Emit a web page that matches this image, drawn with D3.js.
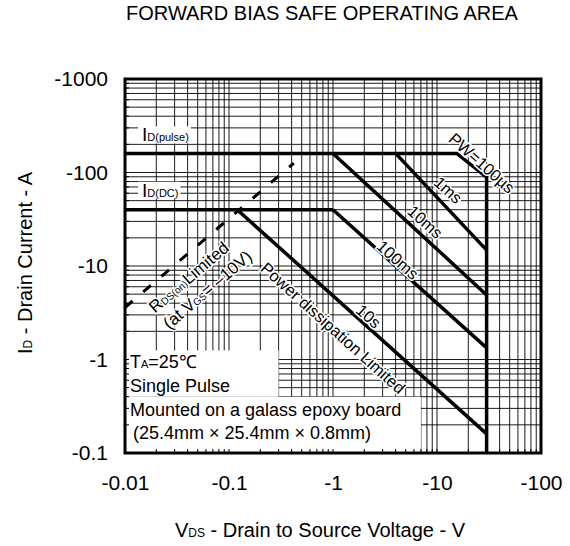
<!DOCTYPE html>
<html>
<head>
<meta charset="utf-8">
<script src="https://cdn.jsdelivr.net/npm/d3@7"></script>
<style>
    body { margin: 0; background: #fff; }
    text { font-family: Arial, "Liberation Sans", sans-serif; fill: #000; }
</style>
</head>
<body>
<div id="chart"></div>
<script>
// tick values (VDS and ID are negative, P-channel)
const xTicks = [-0.01, -0.1, -1, -10, -100];
const yTicks = [-0.1, -1, -10, -100, -1000];

// SOA boundaries: VDS (V) / ID (A)
const pulseV = [-0.01, -15.5, -30, -30];
const pulseI = [-160, -160, -89, -0.1];
const dcV = [-0.01, -1];
const dcI = [-40, -40];
const ms1V = [-4.0, -30];
const ms1I = [-160, -14.8];
const ms10V = [-1.0, -30];
const ms10I = [-160, -4.9];
const ms100V = [-1.0, -30];
const ms100I = [-40, -1.33];
const s10V = [-0.12, -30];
const s10I = [-40, -0.16];
const rdsV = [-0.01, -0.42];
const rdsI = [-3.6, -126];

let zip = (vs, is) => vs.map((v, i) => ({ v: v, i: is[i] }));

let margin = { top: 79, right: 29, bottom: 93, left: 125 };
let width = 570 - margin.left - margin.right;
let height = 546 - margin.top - margin.bottom;

let x = d3.scaleLog()
    .domain([-0.01, -100])
    .range([0, width]);

let y = d3.scaleLog()
    .domain([-0.1, -1000])
    .range([height, 0]);

let line = d3.line()
    .x(function (d) { return x(d.v) })
    .y(function (d) { return y(d.i) });

let root = d3.select("#chart")
    .append("svg")
    .attr("width", 570)
    .attr("height", 546);

let svg = root.append("g")
    .attr("transform", "translate(" + margin.left + "," + margin.top + ")");

// log grid
let grid = svg.append("g").attr("stroke", "#000").attr("stroke-width", 0.9);
grid.selectAll(".gx").data(x.ticks()).enter().append("line")
    .attr("x1", d => x(d)).attr("x2", d => x(d))
    .attr("y1", 0).attr("y2", height);
grid.selectAll(".gy").data(y.ticks()).enter().append("line")
    .attr("y1", d => y(d)).attr("y2", d => y(d))
    .attr("x1", 0).attr("x2", width);

// white backing behind the notes in the lower left
svg.append("rect")
    .attr("x", x(-0.01)).attr("y", y(-1.25))
    .attr("width", x(-0.3) - x(-0.01)).attr("height", y(-0.4) - y(-1.25))
    .attr("fill", "#fff");
svg.append("rect")
    .attr("x", x(-0.01)).attr("y", y(-0.4))
    .attr("width", x(-7) - x(-0.01)).attr("height", y(-0.1) - y(-0.4))
    .attr("fill", "#fff");

// curves
let curves = [
    zip(pulseV, pulseI), zip(dcV, dcI), zip(ms1V, ms1I), zip(ms10V, ms10I),
    zip(ms100V, ms100I), zip(s10V, s10I)
];
svg.selectAll(".curve").data(curves).enter().append("path")
    .attr("class", "curve")
    .attr("d", line)
    .attr("fill", "none")
    .attr("stroke", "#000")
    .attr("stroke-width", 3.5)
    .attr("stroke-linejoin", "miter");

svg.append("path")
    .datum(zip(rdsV, rdsI))
    .attr("d", line)
    .attr("fill", "none")
    .attr("stroke", "#000")
    .attr("stroke-width", 3)
    .attr("stroke-dasharray", "10,14");

// angle of a segment in screen space
let angleOf = (vs, is) => Math.atan2(y(is[1]) - y(is[0]), x(vs[1]) - x(vs[0])) * 180 / Math.PI;

let curveLabel = (v, i, ang, size) => {
    return svg.append("text")
        .attr("transform", "translate(" + x(v) + "," + y(i) + ") rotate(" + ang + ")")
        .attr("text-anchor", "middle")
        .attr("dy", "0.35em")
        .attr("font-size", size)
        .attr("stroke", "#fff")
        .attr("stroke-width", 3)
        .attr("paint-order", "stroke");
};

let slope = angleOf(s10V, s10I);
curveLabel(-27, -126, angleOf(pulseV.slice(1), pulseI.slice(1)) + 3, 16.5).text("PW=100µs");
curveLabel(-12.8, -65, slope, 16.5).text("1ms");
curveLabel(-7.7, -29.6, slope, 16.5).text("10ms");
curveLabel(-4.2, -11.6, slope, 16.5).text("100ms");
curveLabel(-2.2, -2.9, slope, 16.5).text("10s");
curveLabel(-1.0, -2.17, slope, 16.5).text("Power dissipation Limited");

let rdsAng = angleOf(rdsV, rdsI);
let r1 = curveLabel(-0.041, -7.6, rdsAng, 17);
r1.append("tspan").text("R");
r1.append("tspan").attr("font-size", 10).text("DS(on)");
r1.append("tspan").text("Limited");
let r2 = curveLabel(-0.062, -5.6, rdsAng, 17);
r2.append("tspan").text("(at V");
r2.append("tspan").attr("font-size", 10).text("GS");
r2.append("tspan").text("= –10V)");

// ID(pulse), ID(DC) tags with white boxes
let tag = (sub, i, dyPx) => {
    let g = svg.append("g");
    let t = g.append("text")
        .attr("x", 17).attr("y", y(i) + dyPx)
        .attr("font-size", 19);
    t.append("tspan").text("I");
    t.append("tspan").attr("font-size", 11).text(sub);
    let b = t.node().getBBox();
    g.insert("rect", "text")
        .attr("x", b.x - 4).attr("y", b.y + 2)
        .attr("width", b.width + 6).attr("height", b.height - 4)
        .attr("fill", "#fff");
};
tag("D(pulse)", -160, -12);
tag("D(DC)", -40, -13);

// conditions note
let note = svg.append("g").attr("font-size", 18);
let ta = note.append("text").attr("x", 5).attr("y", height - 85);
ta.append("tspan").text("T");
ta.append("tspan").attr("font-size", 11).text("A");
ta.append("tspan").text("=25℃");
note.append("text").attr("x", 5).attr("y", height - 61).text("Single Pulse");
note.append("text").attr("x", 5).attr("y", height - 37).text("Mounted on a galass epoxy board");
note.append("text").attr("x", 8).attr("y", height - 14).text("(25.4mm × 25.4mm × 0.8mm)");

// inward tick stubs (visible where the grid is masked)
let ticks = svg.append("g").attr("stroke", "#000").attr("stroke-width", 1);
ticks.selectAll(".tb").data(x.ticks()).enter().append("line")
    .attr("x1", d => x(d)).attr("x2", d => x(d))
    .attr("y1", height).attr("y2", height - 4);
ticks.selectAll(".tl").data(y.ticks()).enter().append("line")
    .attr("y1", d => y(d)).attr("y2", d => y(d))
    .attr("x1", 0).attr("x2", 4);

// frame
svg.append("rect")
    .attr("width", width).attr("height", height)
    .attr("fill", "none")
    .attr("stroke", "#000")
    .attr("stroke-width", 3);

// axes labels
let fmt = d => "-" + Math.abs(d);
let xAxis = d3.axisBottom(x).tickValues(xTicks).tickFormat(fmt).tickSize(0).tickPadding(22);
let yAxis = d3.axisLeft(y).tickValues(yTicks).tickFormat(fmt).tickSize(0).tickPadding(17);

svg.append("g")
    .attr("transform", "translate(0," + height + ")")
    .call(xAxis)
    .call(g => g.select(".domain").remove())
    .selectAll("text")
    .attr("font-size", 21)
    .attr("font-family", "Arial, 'Liberation Sans', sans-serif");

svg.append("g")
    .call(yAxis)
    .call(g => g.select(".domain").remove())
    .selectAll("text")
    .attr("font-size", 21)
    .attr("font-family", "Arial, 'Liberation Sans', sans-serif");

// titles
root.append("text")
    .attr("x", 322).attr("y", 20)
    .attr("text-anchor", "middle")
    .attr("font-size", 20)
    .text("FORWARD BIAS SAFE OPERATING AREA");

let xt = root.append("text")
    .attr("x", 320).attr("y", 537)
    .attr("text-anchor", "middle")
    .attr("font-size", 20);
xt.append("tspan").text("V");
xt.append("tspan").attr("font-size", 12).text("DS");
xt.append("tspan").text(" - Drain to Source Voltage - V");

let yt = root.append("text")
    .attr("transform", "translate(32,263) rotate(-90)")
    .attr("text-anchor", "middle")
    .attr("font-size", 20);
yt.append("tspan").text("I");
yt.append("tspan").attr("font-size", 12).text("D");
yt.append("tspan").text(" - Drain Current - A");
</script>
</body>
</html>
